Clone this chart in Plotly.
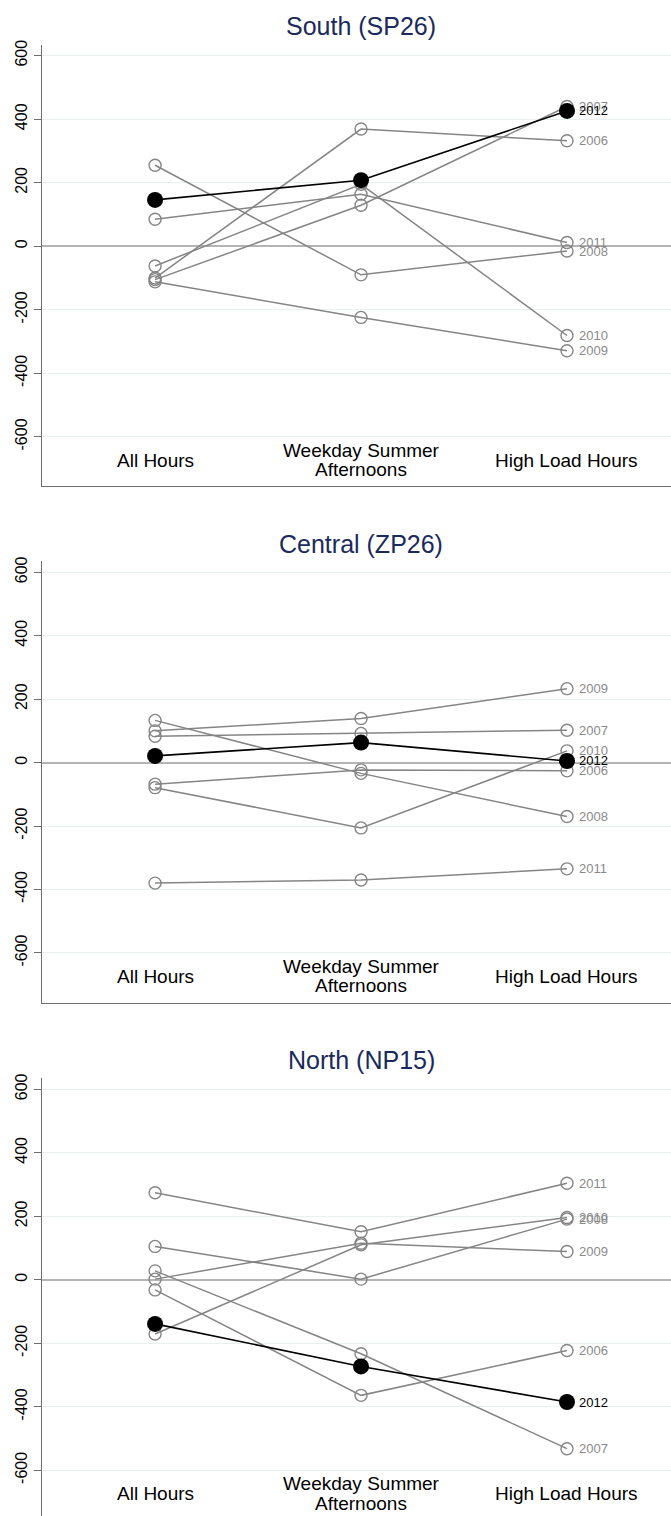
import plotly.graph_objects as go
from plotly.subplots import make_subplots

categories = ["All Hours", "Weekday Summer<br>Afternoons", "High Load Hours"]
years = ["2006", "2007", "2008", "2009", "2010", "2011", "2012"]
panel_titles = ["South (SP26)", "Central (ZP26)", "North (NP15)"]

# South (SP26)
south_2006 = [-100, 369, 332]
south_2007 = [-105, 129, 440]
south_2008 = [255, -90, -15]
south_2009 = [-112, -224, -329]
south_2010 = [-62, 195, -281]
south_2011 = [85, 164, 12]
south_2012 = [146, 208, 426]

# Central (ZP26)
central_2006 = [-68, -23, -26]
central_2007 = [83, 92, 102]
central_2008 = [133, -34, -170]
central_2009 = [100, 139, 233]
central_2010 = [-79, -206, 37]
central_2011 = [-380, -370, -335]
central_2012 = [21, 63, 5]

# North (NP15)
north_2006 = [-32, -364, -223]
north_2007 = [28, -233, -532]
north_2008 = [105, 2, 191]
north_2009 = [2, 115, 89]
north_2010 = [-171, 110, 196]
north_2011 = [274, 151, 304]
north_2012 = [-139, -273, -385]

panels = [
    [south_2006, south_2007, south_2008, south_2009, south_2010, south_2011, south_2012],
    [central_2006, central_2007, central_2008, central_2009, central_2010, central_2011, central_2012],
    [north_2006, north_2007, north_2008, north_2009, north_2010, north_2011, north_2012],
]

H = 1516.0
# pixel extents of each plot area (top, bottom)
px_extents = [(40, 483), (558, 1001), (1077, 1516)]
y_ranges = [[-756, 634], [-757, 635], [-744, 634]]
title_px = [21, 541, 1058]

fig = make_subplots(rows=3, cols=1)

GRAY = "#858585"
xs = [1, 2, 3]
for p, series in enumerate(panels):
    row = p + 1
    for i, vals in enumerate(series):
        yr = years[i]
        if yr == "2012":
            fig.add_trace(go.Scatter(
                x=xs, y=vals, mode="lines+markers",
                line=dict(color="black", width=1.6),
                marker=dict(symbol="circle", size=16, color="black"),
                showlegend=False, hoverinfo="skip"), row=row, col=1)
        else:
            fig.add_trace(go.Scatter(
                x=xs, y=vals, mode="lines+markers",
                line=dict(color=GRAY, width=1.5),
                marker=dict(symbol="circle-open", size=12, color=GRAY,
                            line=dict(width=1.4, color=GRAY)),
                showlegend=False, hoverinfo="skip"), row=row, col=1)
    # year labels at the last category
    for i, vals in enumerate(series):
        yr = years[i]
        fig.add_annotation(
            x=3, y=vals[2], xref=f"x{row}" if row > 1 else "x",
            yref=f"y{row}" if row > 1 else "y",
            text=yr, showarrow=False, xanchor="left", yanchor="middle",
            xshift=10, font=dict(size=13, color="black" if yr == "2012" else "#8a8a8a",
                                 family="Liberation Sans, Arial, sans-serif"))

    top, bot = px_extents[p]
    fig.update_yaxes(
        domain=[1 - bot / H, 1 - top / H], range=y_ranges[p],
        tickvals=[-600, -400, -200, 0, 200, 400, 600],
        ticktext=["-600", "-400", "-200", "0", "200", "400", "600"],
        tickangle=-90, ticks="outside", ticklen=7, tickwidth=1.3,
        tickcolor="#6e6e6e", showline=True, linecolor="#6e6e6e", linewidth=1.3,
        showgrid=True, gridcolor="#e8f0f1", gridwidth=1,
        zeroline=True, zerolinecolor="#b4b4b4", zerolinewidth=1.5,
        tickfont=dict(size=16, color="black", family="Liberation Sans, Arial, sans-serif"),
        row=row, col=1)
    fig.update_xaxes(
        range=[0.451, 3.505], showticklabels=False, ticks="",
        showgrid=False, zeroline=False,
        showline=(row != 3), linecolor="#6e6e6e", linewidth=1.3,
        row=row, col=1)

    xr = f"x{row}" if row > 1 else "x"
    yref = f"y{row}" if row > 1 else "y"
    # panel title
    fig.add_annotation(
        x=2, xref=xr, y=1 - title_px[p] / H, yref="paper",
        text=panel_titles[p], showarrow=False, xanchor="center", yanchor="middle",
        font=dict(size=25, color="#1b2a5c", family="Liberation Sans, Arial, sans-serif"))
    # category labels inside plot
    cat_font = dict(size=19, color="black", family="Liberation Sans, Arial, sans-serif")
    for ci, cat in enumerate(categories):
        lines = cat.split("<br>")
        if len(lines) == 1:
            fig.add_annotation(x=ci + 1, xref=xr, y=-673, yref=yref, text=lines[0],
                               showarrow=False, xanchor="center", yanchor="middle", font=cat_font)
        else:
            fig.add_annotation(x=ci + 1, xref=xr, y=-642, yref=yref, text=lines[0],
                               showarrow=False, xanchor="center", yanchor="middle", font=cat_font)
            fig.add_annotation(x=ci + 1, xref=xr, y=-704, yref=yref, text=lines[1],
                               showarrow=False, xanchor="center", yanchor="middle", font=cat_font)

fig.update_layout(
    width=671, height=1516,
    margin=dict(l=42, r=0, t=0, b=0),
    paper_bgcolor="white", plot_bgcolor="white",
    font=dict(family="Liberation Sans, Arial, sans-serif"),
    showlegend=False,
)

fig.write_html("out.html")
